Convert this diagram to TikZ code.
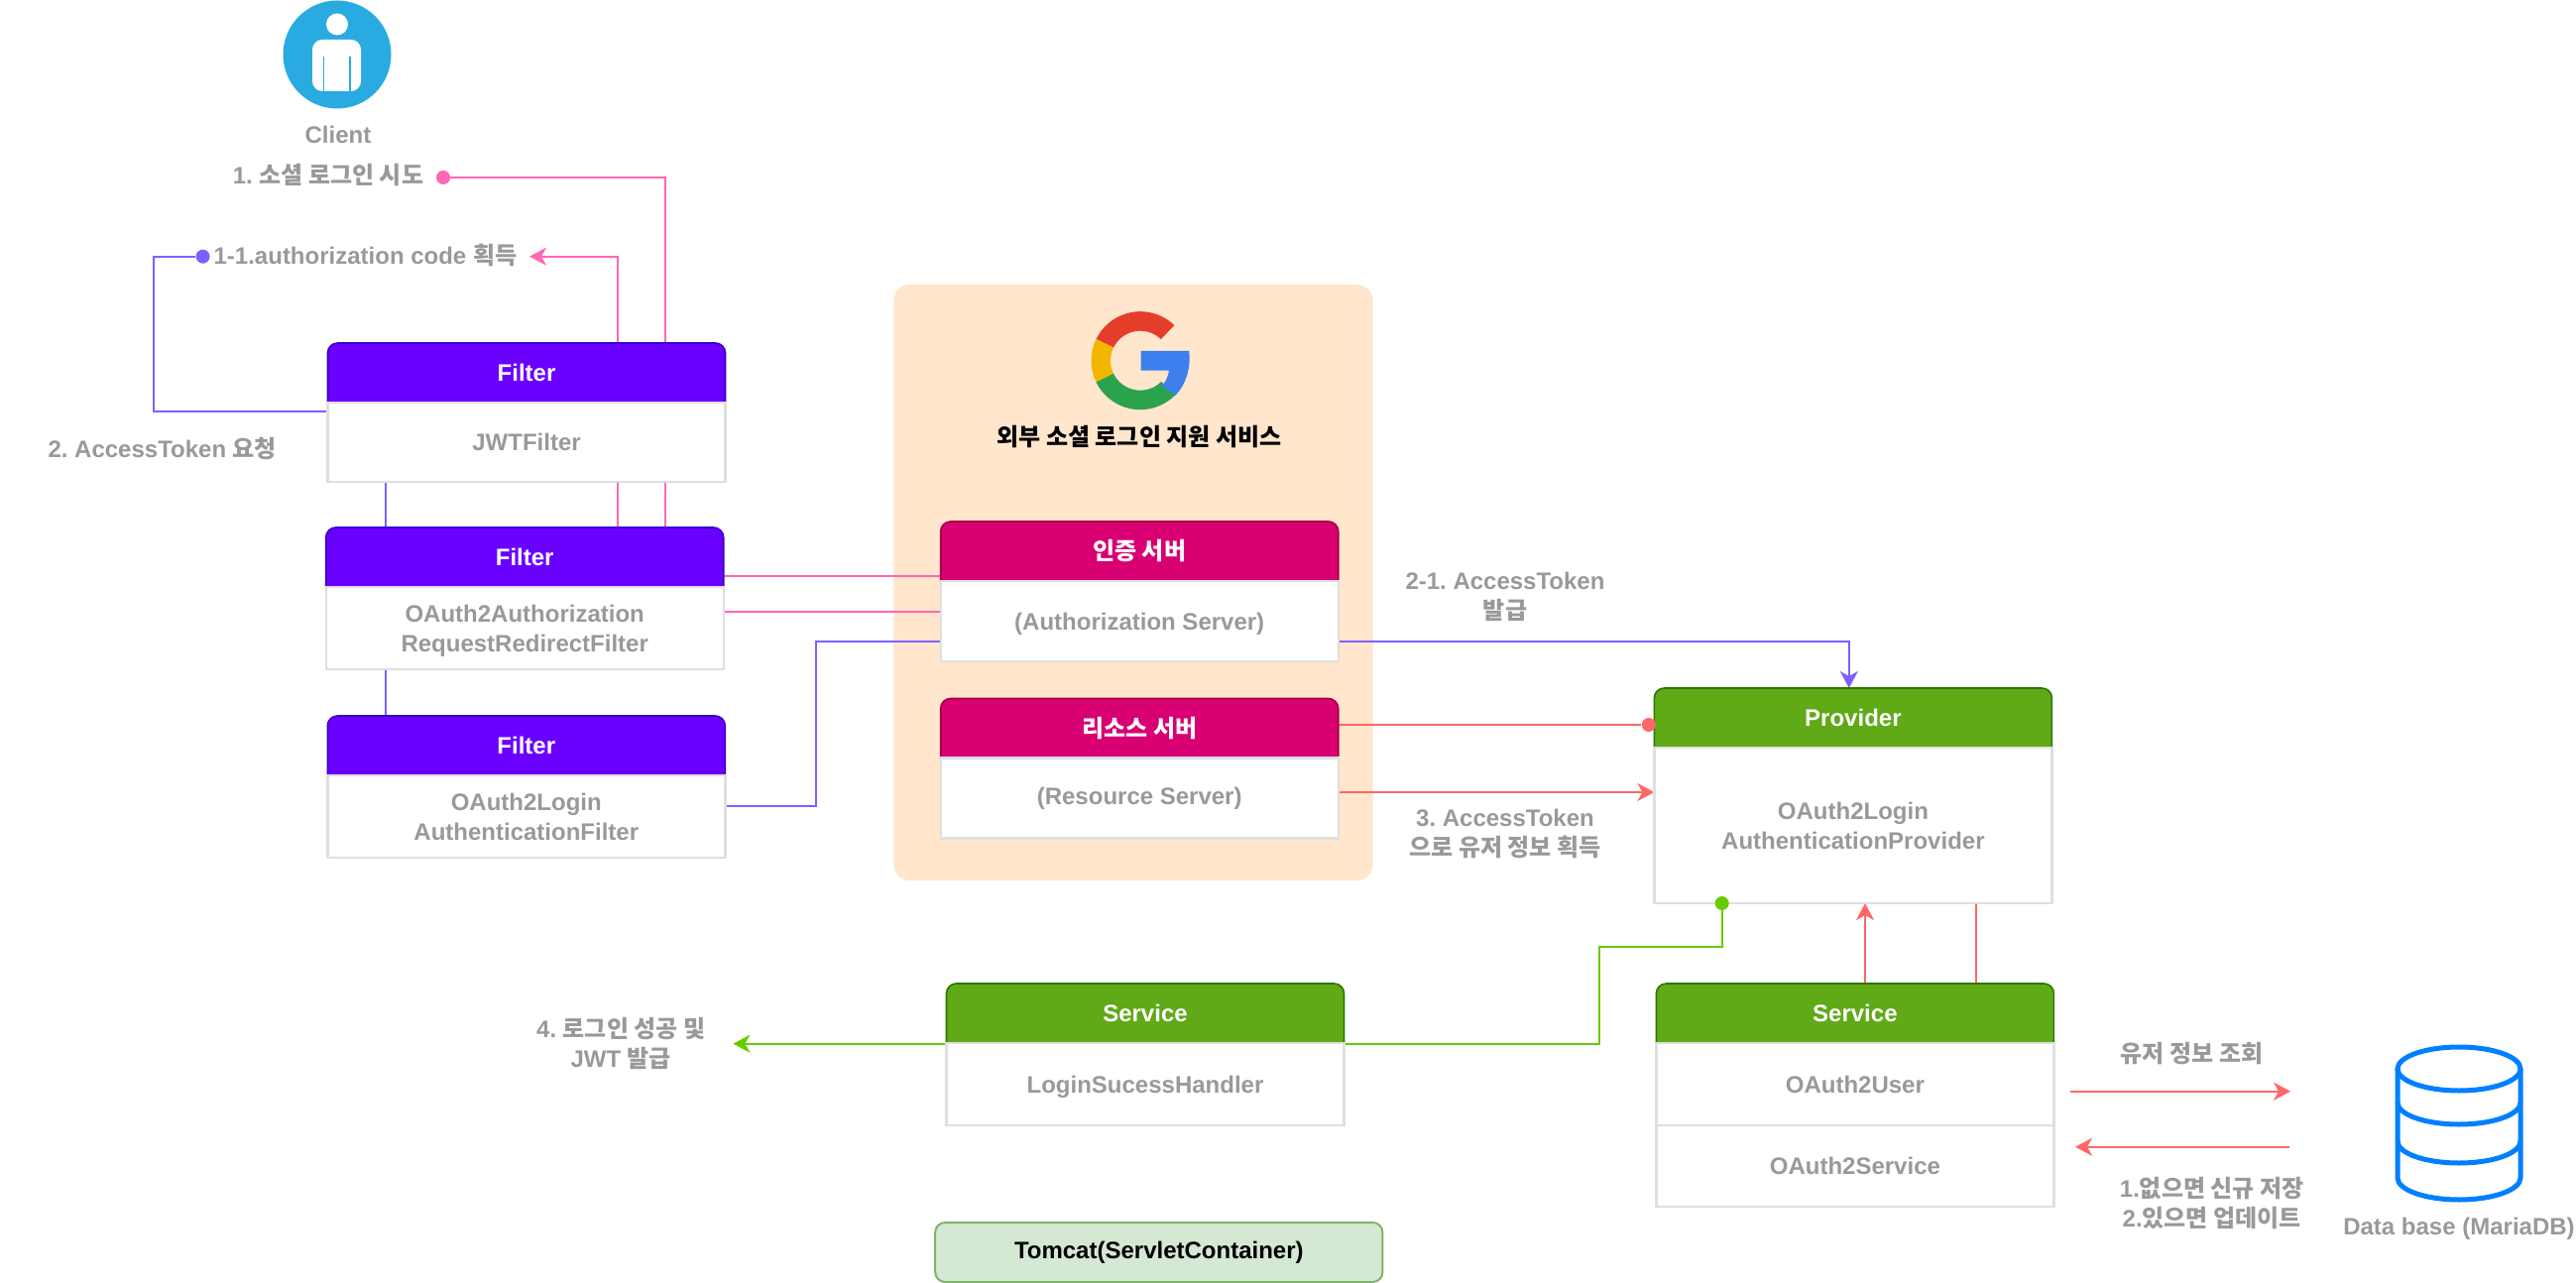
\documentclass[tikz,border=0pt]{standalone}
\usepackage{fontspec}
\setmainfont{Liberation Sans}
\newfontfamily\krfont{Noto Sans CJK KR}
\newcommand{\hangul}[1]{{\krfont #1}}
\newcommand{\nodepth}[1]{\raisebox{0pt}[\height][0pt]{#1}}
\usetikzlibrary{positioning,arrows.meta}
\frenchspacing

\definecolor{filterFill}{HTML}{6A00FF}
\definecolor{filterLine}{HTML}{3700CC}
\definecolor{serverFill}{HTML}{D80073}
\definecolor{serverLine}{HTML}{A50040}
\definecolor{serviceFill}{HTML}{60A917}
\definecolor{serviceLine}{HTML}{2D7600}
\definecolor{boxLine}{HTML}{DFDFDF}
\definecolor{textGrey}{HTML}{999999}
\definecolor{panelFill}{HTML}{FFE6CC}
\definecolor{tomcatFill}{HTML}{D5E8D4}
\definecolor{tomcatLine}{HTML}{82B366}
\definecolor{wirePink}{HTML}{FF66B3}
\definecolor{wirePurple}{HTML}{7F5FFF}
\definecolor{wireRed}{HTML}{FF6666}
\definecolor{wireGreen}{HTML}{66CC00}
\definecolor{clientBlue}{HTML}{29ABE2}
\definecolor{dbBlue}{HTML}{007FFF}
\definecolor{gRed}{HTML}{E43E2B}
\definecolor{gYellow}{HTML}{F2B600}
\definecolor{gGreen}{HTML}{2BA24C}
\definecolor{gBlue}{HTML}{3D7FEE}

\pgfdeclarelayer{panel}
\pgfdeclarelayer{wires}
\pgfdeclarelayer{boxes}
\pgfsetlayers{panel,wires,boxes,main}

\begin{document}
\begin{tikzpicture}[
  x=0.5pt,
  y=-0.5pt,
  tag/.style={
    font=\fontsize{12}{15}\selectfont\bfseries,
    text=textGrey,
    align=center,
    inner sep=0pt
  },
  headbox/.style={
    font=\fontsize{12}{15}\selectfont\bfseries,
    text=white,
    minimum width=200.5pt,
    minimum height=30pt,
    inner sep=0pt,
    outer sep=0pt
  },
  bodybox/.style={
    draw=boxLine,
    fill=white,
    line width=1.2pt,
    font=\fontsize{12}{15}\selectfont\bfseries,
    text=textGrey,
    align=center,
    minimum width=200.5pt,
    minimum height=#1,
    inner sep=0pt,
    outer sep=0pt
  },
  dot/.style={
    circle,
    fill=#1,
    minimum size=7pt,
    inner sep=0pt
  },
  wire/.style={
    draw=#1,
    line width=1.1pt
  },
  >={Stealth[length=8.5pt,width=9pt,inset=2.5pt]}
]
\useasboundingbox (0,0) rectangle (2598,1294);

% Client
\node[circle,fill=clientBlue,minimum size=54.5pt,inner sep=0pt] (client) at (340,55) {};
\fill[white] (340,24.5) circle[radius=5.5pt];
\fill[white,rounded corners=5pt] (315,40) rectangle (364,92);
\foreach \ax in {326.5,353} {
  \draw[clientBlue,line width=.6pt] (\ax,57) -- (\ax,92);
}
\node[tag] (clientText) at (341,136) {Client};

% Panel
\begin{pgfonlayer}{panel}
  \node[fill=panelFill,rounded corners=8pt,minimum width=241.6pt,minimum height=300.5pt,inner sep=0pt] (extPanel) at (1143,587.5) {};
\end{pgfonlayer}
\node[tag,text=black] (extTitle) at (1149,441) {\hangul{외부 소셜 로그인 지원 서비스}};

% Logo
\begin{scope}[shift={(1150,363.7)},x=1pt,y=1pt]
  \foreach \ai/\aii/\col in {46/154/gRed,154/206/gYellow,206/315/gGreen} {
    \fill[\col] (\ai:24.75) arc[start angle=\ai,end angle=\aii,radius=24.75pt]
      -- (\aii:15) arc[start angle=\aii,end angle=\ai,radius=15pt] -- cycle;
  }
  \fill[gBlue] (0.35,4.85) -- (24.6,4.85) .. controls (25.6,-4) and (23,-12) .. (17.7,-17.6)
    -- (10,-11.9) .. controls (12,-13.5) and (14,-8) .. (14.5,-4.95) -- (0.35,-4.95) -- cycle;
\end{scope}

% Filters
\node[headbox] (filterHeadA) at (531,376) {Filter};
\node[bodybox=40pt,below=0pt of filterHeadA] (filterBodyA) {JWTFilter};
\node[headbox] (filterHeadB) at (529.2,562) {Filter};
\node[bodybox=41.5pt,below=0pt of filterHeadB] (filterBodyB) {OAuth2Authorization\\\nodepth{RequestRedirectFilter}};
\node[headbox] (filterHeadC) at (530.8,752) {Filter};
\node[bodybox=41.5pt,below=0pt of filterHeadC] (filterBodyC) {OAuth2Login\\AuthenticationFilter};

% Servers
\node[headbox] (authHead) at (1149.2,556) {\hangul{인증 서버}};
\node[bodybox=40.5pt,below=0pt of authHead] (authBody) {\nodepth{(Authorization Server)}};
\node[headbox] (resHead) at (1149.2,734.5) {\hangul{리소스 서버}};
\node[bodybox=40.5pt,below=0pt of resHead] (resBody) {(Resource Server)};

% Services
\node[headbox] (provHead) at (1868.9,724) {Provider};
\node[bodybox=78.5pt,below=0pt of provHead] (provBody) {OAuth2Login\\AuthenticationProvider};
\node[headbox] (loginHead) at (1155,1022) {Service};
\node[bodybox=41.5pt,below=0pt of loginHead] (loginBody) {\nodepth{LoginSucessHandler}};
\node[headbox] (svcHead) at (1870.9,1022) {Service};
\node[bodybox=41.5pt,below=0pt of svcHead] (svcUser) {OAuth2User};
\node[bodybox=41pt,below=0pt of svcUser] (svcService) {OAuth2Service};

% Header shapes
\begin{pgfonlayer}{boxes}
  \foreach \hd/\col/\edge in {
    filterHeadA/filterFill/filterLine,
    filterHeadB/filterFill/filterLine,
    filterHeadC/filterFill/filterLine,
    authHead/serverFill/serverLine,
    resHead/serverFill/serverLine,
    provHead/serviceFill/serviceLine,
    loginHead/serviceFill/serviceLine,
    svcHead/serviceFill/serviceLine} {
    \draw[draw=\edge,fill=\col,line width=.8pt] (\hd.south west) [rounded corners=5pt] -- (\hd.north west)
      -- (\hd.north east) [sharp corners] -- (\hd.south east) -- cycle;
  }
\end{pgfonlayer}

% Tomcat
\node[draw=tomcatLine,fill=tomcatFill,line width=1pt,rounded corners=5pt,
  font=\fontsize{12}{15}\selectfont\bfseries,minimum width=225.6pt,minimum height=30pt,inner sep=0pt] (tomcat) at (1168.8,1263) {Tomcat(ServletContainer)};

% Labels
\node[tag] (tryText) at (331,177) {1. \hangul{소셜 로그인 시도}};
\node[tag] (codeText) at (368.4,257.7) {1-1.authorization code \hangul{획득}};
\node[tag] (reqText) at (163.8,453) {2. AccessToken \hangul{요청}};
\node[tag] (issueText) at (1518,602) {2-1. AccessToken\\\hangul{발급}};
\node[tag] (userText) at (1518,840.5) {3. AccessToken\\\hangul{으로 유저 정보 획득}};
\node[tag] (jwtText) at (626.3,1052) {4. \hangul{로그인 성공 및}\\JWT \hangul{발급}};
\node[tag] (lookText) at (2210.6,1063) {\hangul{유저 정보 조회}};
\node[tag] (saveText) at (2230.7,1214) {1.\hangul{없으면 신규 저장}\\2.\hangul{있으면 업데이트}};
\node[tag] (dbText) at (2480,1237) {\nodepth{Data base (MariaDB)}};

% Database
\draw[dbBlue,line width=2.5pt] (2480,1078) ellipse[x radius=31pt,y radius=11pt];
\draw[dbBlue,line width=2.5pt] (2418,1078) -- (2418,1188)
  arc[start angle=180,end angle=360,x radius=31pt,y radius=11pt] -- (2542,1078);
\foreach \ai in {1112,1151} {
  \draw[dbBlue,line width=2.5pt] (2418,\ai) arc[start angle=180,end angle=360,x radius=31pt,y radius=11pt];
}

% Dots and bends
\node[dot=wirePink] (dotTry) at (447,179) {};
\node[dot=wirePurple] (dotCode) at (204.6,258.7) {};
\node[dot=wireRed] (dotProv) at (1662.8,731) {};
\node[dot=wireGreen] (dotJwt) at (1736.7,911) {};
\coordinate (bendTry) at (671,179);
\coordinate (authInA) at (948,581);
\coordinate (authInB) at (948,617);
\coordinate (bendCode) at (623,258.7);
\coordinate (codeTip) at (534,258.7);
\coordinate (bendLeft) at (155,414.7);
\coordinate (bendDown) at (389,812.7);
\coordinate (bendUp) at (822.8,647);
\coordinate (provIn) at (1864.8,694);
\coordinate (provSide) at (1668.4,799);
\coordinate (svcUpA) at (1881,992);
\coordinate (svcUpB) at (1993,992);
\coordinate (bendJwt) at (1612.8,954.7);
\coordinate (jwtTip) at (739.4,1052.7);
\coordinate (dbOutA) at (2087.8,1100.7);
\coordinate (dbOutB) at (2310,1100.7);
\coordinate (dbBackA) at (2309,1156.7);
\coordinate (dbBackB) at (2093,1156.7);

\begin{pgfonlayer}{wires}
  % Arrows 1
  \draw[wire=wirePink] (dotTry) -- (bendTry) |- (authInA);
  \draw[wire=wirePink,->] (authInB) -| (bendCode) -- (codeTip);

  % Arrow 2
  \draw[wire=wirePurple,->] (dotCode) -| (bendLeft) -| (bendDown) -| (bendUp) -| (provIn);

  % Arrows 3
  \draw[wire=wireRed] (resHead.east |- dotProv) -- (dotProv);
  \draw[wire=wireRed,->] (resBody.east |- provSide) -- (provSide);
  \draw[wire=wireRed,->] (svcUpA) -- (svcUpA |- provBody.south);
  \draw[wire=wireRed] (svcUpB) -- (svcUpB |- provBody.south);

  % Arrow 4
  \draw[wire=wireGreen,->] (dotJwt) |- (bendJwt) |- (jwtTip);
\end{pgfonlayer}

% Arrows to the database
\draw[wire=wireRed,->] (dbOutA) -- (dbOutB);
\draw[wire=wireRed,->] (dbBackA) -- (dbBackB);

\end{tikzpicture}
\end{document}
